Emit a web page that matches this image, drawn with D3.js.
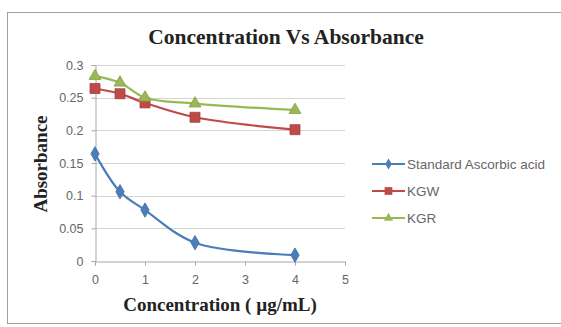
<!DOCTYPE html>
<html>
<head>
<meta charset="utf-8">
<script src="https://cdn.jsdelivr.net/npm/d3@7"></script>
<style>
  body { margin: 0; background: #fff; }
</style>
</head>
<body>
<div id="chart"></div>
<script>
const concentration = [0, 0.5, 1, 2, 4];
const standardAscorbic = [0.164, 0.106, 0.078, 0.028, 0.009];
const kgw = [0.264, 0.256, 0.242, 0.220, 0.201];
const kgr = [0.283, 0.273, 0.250, 0.241, 0.231];
const xTicks = [0, 1, 2, 3, 4, 5];
const yTicks = [0, 0.05, 0.1, 0.15, 0.2, 0.25, 0.3];

const series = [
    {name: "Standard Ascorbic acid", values: standardAscorbic, color: "#4a7ebb", symbol: d3.symbolDiamond, size: 60},
    {name: "KGW", values: kgw, color: "#be4b48", symbol: d3.symbolSquare, size: 100},
    {name: "KGR", values: kgr, color: "#98b954", symbol: d3.symbolTriangle, size: 62}
];

const width  = 561;
const height = 327;
const plot = {left: 95, right: 345, top: 65, bottom: 261};

const svg = d3.select("#chart")
    .append("svg")
    .attr("width",  width)
    .attr("height", height)

// chart frame
svg.append("rect")
    .attr("x", 7.5).attr("y", 12.5)
    .attr("width", 560).attr("height", 311)
    .attr("fill", "#fff")
    .attr("stroke", "#a0a0a0")

var x = d3.scaleLinear().domain([0, 5]).range([plot.left, plot.right])
var y = d3.scaleLinear().domain([0, 0.3]).range([plot.bottom, plot.top])

// gridlines
svg.append("g")
    .selectAll("line")
    .data(yTicks.slice(1))
    .join("line")
        .attr("x1", plot.left).attr("x2", plot.right)
        .attr("y1", d => Math.round(y(d)) + 0.5)
        .attr("y2", d => Math.round(y(d)) + 0.5)
        .attr("stroke", "#d4d4d4")

const xAxis = d3.axisBottom(x).tickValues(xTicks).tickSize(4).tickFormat(d3.format("d"))
const yAxis = d3.axisLeft(y).tickValues(yTicks).tickSize(4).tickFormat(d => d === 0 ? "0" : String(+d.toFixed(2)))

const xAxisGroup = svg.append("g")
    .attr("transform", `translate(0, ${Math.round(plot.bottom) + 0.5})`)
    .call(xAxis)
const yAxisGroup = svg.append("g")
    .attr("transform", `translate(${plot.left + 0.5}, 0)`)
    .call(yAxis)

for (const g of [xAxisGroup, yAxisGroup]) {
    g.selectAll("path, line").attr("stroke", "#a8a8a8")
    g.selectAll("text")
        .attr("fill", "#666")
        .attr("font-family", "Liberation Sans, Arial, sans-serif")
        .attr("font-size", 12.5)
}
xAxisGroup.selectAll("text").attr("dy", "1.25em")
yAxisGroup.selectAll("text").attr("dx", "-0.4em")

// lines + markers
series.forEach(s => {
    const pts = concentration.map((c, i) => [c, s.values[i]])
    svg.append("path")
        .datum(pts)
        .attr("d", d3.line().x(d => x(d[0])).y(d => y(d[1])).curve(d3.curveCatmullRom))
        .attr("fill", "none")
        .attr("stroke", s.color)
        .attr("stroke-width", 2.2)
    svg.append("g")
        .selectAll("path")
        .data(pts)
        .join("path")
            .attr("transform", d => `translate(${x(d[0])}, ${y(d[1])})`)
            .attr("d", d3.symbol().type(s.symbol).size(s.size))
            .attr("fill", s.color)
            .attr("stroke", d3.color(s.color).darker(0.4))
            .attr("stroke-width", 0.8)
})

// legend
const legend = svg.append("g").attr("transform", "translate(372, 164)")
series.forEach((s, i) => {
    const row = legend.append("g").attr("transform", `translate(0, ${i * 27})`)
    row.append("line")
        .attr("x1", 0).attr("x2", 33)
        .attr("stroke", s.color).attr("stroke-width", 2.2)
    row.append("path")
        .attr("transform", "translate(16.5, 0)")
        .attr("d", d3.symbol().type(s.symbol).size(s.size * 0.6))
        .attr("fill", s.color)
    row.append("text")
        .text(s.name)
        .attr("x", 35).attr("y", 4.5)
        .attr("font-family", "Liberation Sans, Arial, sans-serif")
        .attr("font-size", 13.5)
        .attr("fill", "#666")
})

// titles
const serif = "Liberation Serif, Times New Roman, serif"
svg.append("text")
    .text("Concentration Vs Absorbance")
    .attr("x", 286).attr("y", 44)
    .attr("text-anchor", "middle")
    .attr("font-family", serif).attr("font-weight", "bold")
    .attr("font-size", 21.5).attr("fill", "#222")

svg.append("text")
    .text("Absorbance")
    .attr("transform", "translate(47, 164) rotate(-90)")
    .attr("text-anchor", "middle")
    .attr("font-family", serif).attr("font-weight", "bold")
    .attr("font-size", 19).attr("fill", "#222")

svg.append("text")
    .text("Concentration ( µg/mL)")
    .attr("x", 220).attr("y", 311)
    .attr("text-anchor", "middle")
    .attr("font-family", serif).attr("font-weight", "bold")
    .attr("font-size", 19).attr("fill", "#222")
</script>
</body>
</html>
